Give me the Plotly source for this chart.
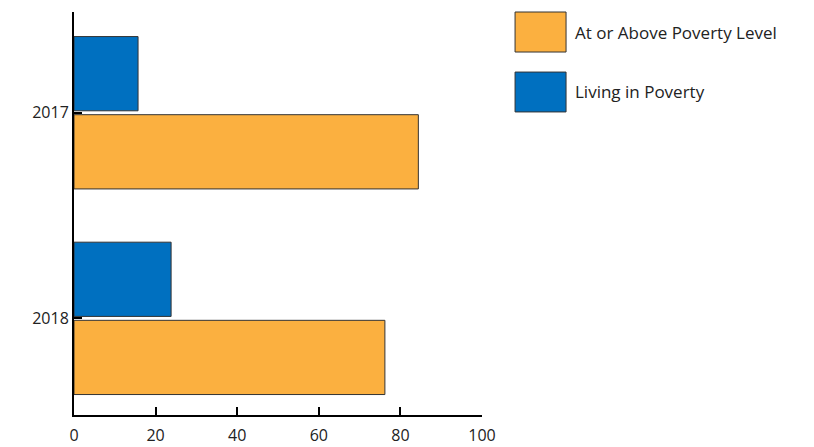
import plotly.graph_objects as go

years = ["2017", "2018"]
living_in_poverty = [15.7, 23.8]
at_or_above = [84.4, 76.2]

BLUE = "#0070C0"
ORANGE = "#FBB040"
EDGE = "#333333"
FONT = "Open Sans, Lato, sans-serif"

fig = go.Figure()

# blue trace first so it sits above the orange one in each group (reversed y)
fig.add_trace(go.Bar(
    y=years, x=living_in_poverty, orientation="h", name="Living in Poverty",
    marker=dict(color=BLUE, line=dict(color=EDGE, width=1)),
    showlegend=False,
))
fig.add_trace(go.Bar(
    y=years, x=at_or_above, orientation="h", name="At or Above Poverty Level",
    marker=dict(color=ORANGE, line=dict(color=EDGE, width=1)),
    showlegend=False,
))

# hand-made legend with big swatches
legend_items = [("At or Above Poverty Level", ORANGE, 1.0, 0.9007),
                ("Living in Poverty", BLUE, 0.851, 0.752)]
for label, color, y1, y0 in legend_items:
    fig.add_shape(type="rect", xref="paper", yref="paper",
                  x0=1.081, x1=1.206, y0=y0, y1=y1,
                  fillcolor=color, line=dict(color=EDGE, width=1))
    fig.add_annotation(xref="paper", yref="paper", x=1.223, y=(y0 + y1) / 2,
                       text=label, showarrow=False, xanchor="left", yanchor="middle",
                       font=dict(size=17, color="#222222", family=FONT))

# page body adds an 8px margin, so the figure is a bit smaller and shifted
fig.update_layout(
    barmode="group",
    bargap=0.24,
    bargroupgap=0.05,
    width=806, height=439,
    margin=dict(l=66, r=332, t=4, b=32, pad=0),
    plot_bgcolor="white", paper_bgcolor="white",
    font=dict(family=FONT, size=16, color="#222222"),
)
fig.update_xaxes(
    range=[0, 100], tickvals=[0, 20, 40, 60, 80, 100],
    showline=True, linecolor="black", linewidth=2,
    ticks="inside", ticklen=8, tickwidth=2, tickcolor="black",
    ticklabelstandoff=5,
    showgrid=False, zeroline=False, automargin=False,
)
fig.update_yaxes(
    type="category", categoryorder="array", categoryarray=years,
    range=[1.47, -0.49],
    showline=True, linecolor="black", linewidth=2,
    ticks="inside", ticklen=8, tickwidth=2, tickcolor="black",
    showgrid=False, zeroline=False, automargin=False,
)

fig.write_html("out.html")
